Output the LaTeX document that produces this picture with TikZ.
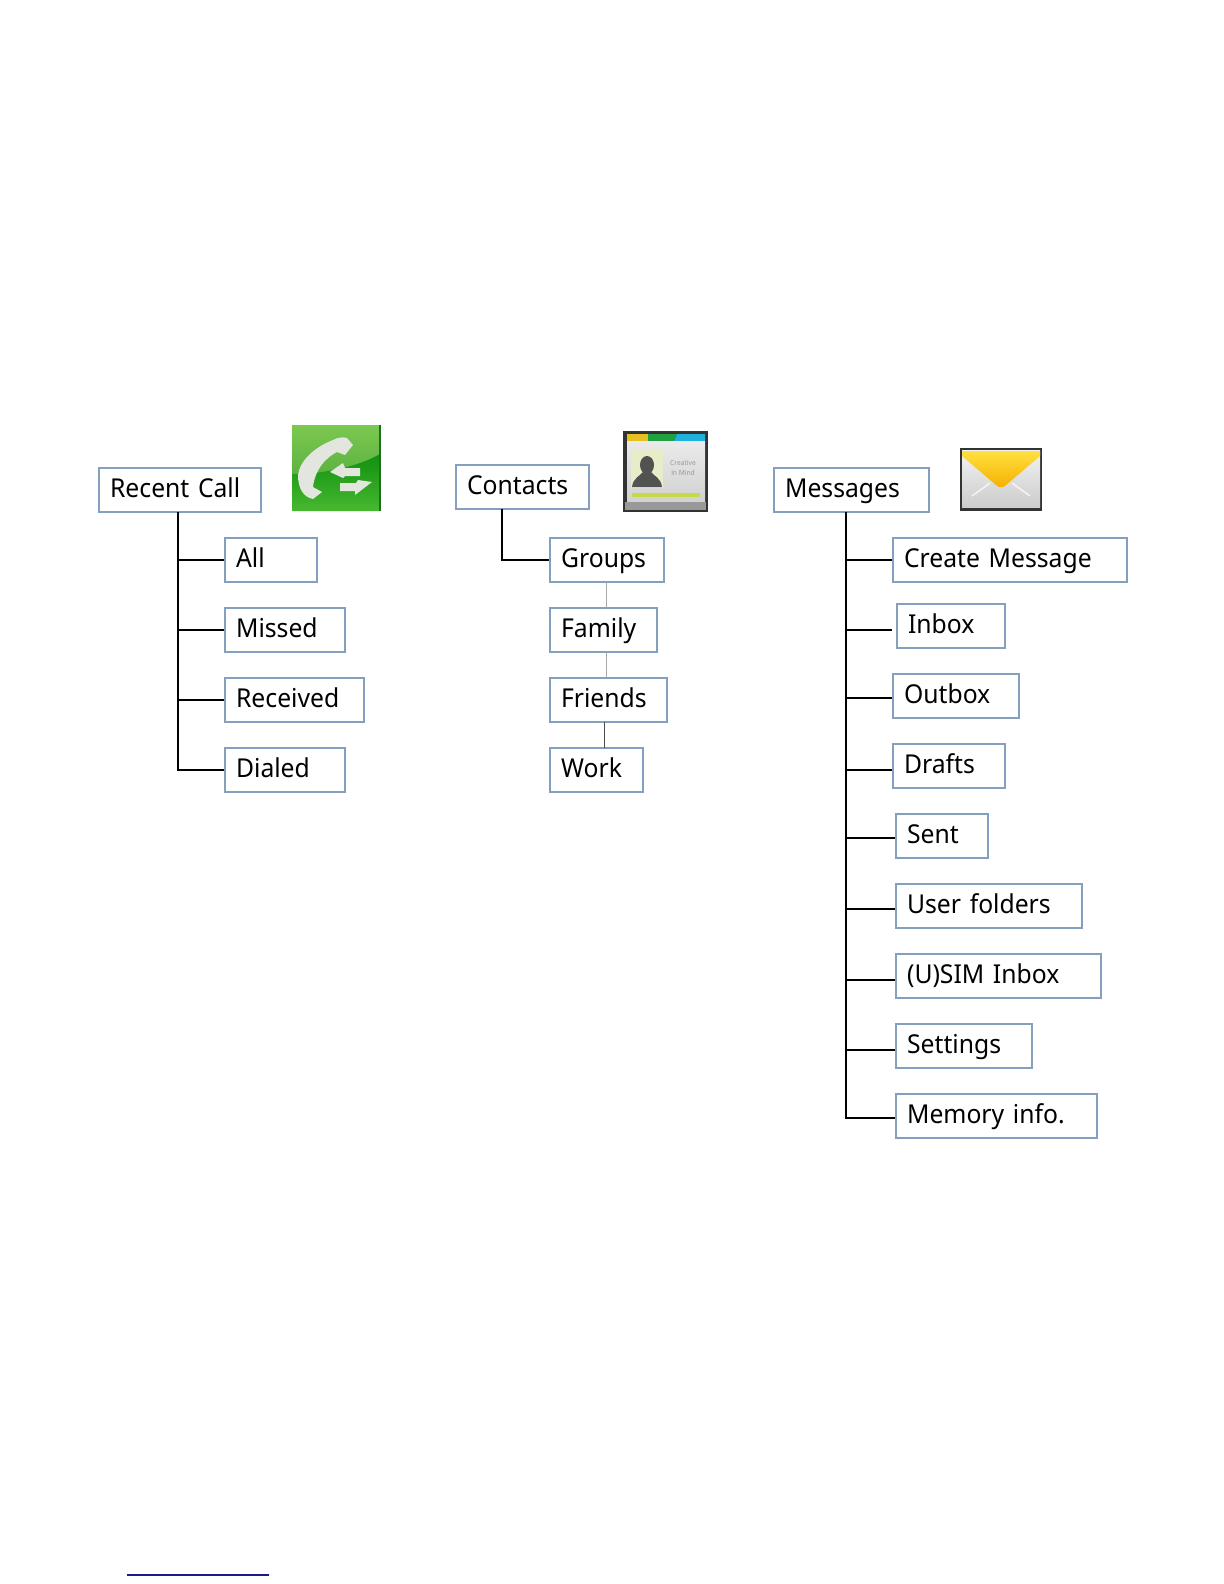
\documentclass[tikz,border=0pt]{standalone}
\usepackage{fontspec}
\setmainfont[FakeStretch=0.95]{Noto Sans}
\definecolor{boxblue}{HTML}{84A0BE}
\definecolor{hairgrey}{HTML}{A8A8A8}
\definecolor{footnavy}{HTML}{1A1A8C}
\definecolor{iconlime}{HTML}{7CC850}
\definecolor{icongreen}{HTML}{58B040}
\definecolor{icondeep}{HTML}{109010}
\definecolor{iconedge}{HTML}{1F6F1F}
\definecolor{iconfoot}{HTML}{48B830}
\definecolor{handsetgrey}{HTML}{E2E6DE}
\definecolor{framedark}{HTML}{333333}
\definecolor{tabyellow}{HTML}{E5C020}
\definecolor{tabgreen}{HTML}{20A040}
\definecolor{tabblue}{HTML}{20B0E0}
\definecolor{photopale}{HTML}{E8ECC8}
\definecolor{barlime}{HTML}{C8D848}
\definecolor{flapyellow}{HTML}{FFE040}
\definecolor{flaporange}{HTML}{F5B000}
\tikzset{
  menubox/.style={draw=boxblue,line width=1.1bp,anchor=west,inner ysep=0pt,inner xsep=5.5bp,
    minimum height=22bp,minimum width=#1*0.5bp,text width=#1*0.5bp-11bp,align=left,
    font=\fontsize{13bp}{15bp}\selectfont,text height=10bp,text depth=3bp},
  treeline/.style={black,line width=1.3bp},
  hairline/.style={hairgrey,line width=0.5bp}
}
\begin{document}
\begin{tikzpicture}[x=0.5bp,y=-0.5bp]
  \useasboundingbox (0,0) rectangle (1224,1584);
  \fill[white] (0,0) rectangle (1224,1584);

  \node[menubox=162] (recent) at (98,490) {Recent Call};
  \node[menubox=92] (all) at (224,560) {All};
  \node[menubox=120] (missed) at (224,630) {Missed};
  \node[menubox=139] (received) at (224,700) {Received};
  \node[menubox=120] (dialed) at (224,770) {Dialed};

  \node[menubox=133] (contacts) at (455,487) {Contacts};
  \node[menubox=114] (groups) at (549,560) {Groups};
  \node[menubox=107] (family) at (549,630) {Family};
  \node[menubox=117] (friends) at (549,700) {Friends};
  \node[menubox=93] (work) at (549,770) {Work};

  \node[menubox=155] (messages) at (773,490) {Messages};
  \node[menubox=234] (create) at (892,560) {Create Message};
  \node[menubox=108] (inbox) at (896,626) {Inbox};
  \node[menubox=126] (outbox) at (892,696) {Outbox};
  \node[menubox=112] (drafts) at (892,766) {Drafts};
  \node[menubox=92] (sent) at (895,836) {Sent};
  \node[menubox=186] (folders) at (895,906) {User folders};
  \node[menubox=205] (usim) at (895,976) {(U)SIM Inbox};
  \node[menubox=136] (settings) at (895,1046) {Settings};
  \node[menubox=201] (memory) at (895,1116) {Memory info.};

  \coordinate (recentstem) at (178,512);
  \coordinate (contactstem) at (502,509);
  \coordinate (messagestem) at (846,512);
  \coordinate (inboxend) at (892,630);

  \foreach \child in {all,missed,received,dialed}
    \draw[treeline] (recentstem) |- (\child.west);
  \draw[treeline] (contactstem) |- (groups.west);
  \foreach \child/\drop in {create/0,outbox/1,drafts/2,sent/1,folders/1.5,usim/2,settings/2,memory/1}
    \draw[treeline] (messagestem) |- ([yshift=-\drop bp]\child.west);
  \draw[treeline] (messagestem) |- (inboxend);

  \draw[hairline] (606,582) -- (606,608);
  \draw[hairline] (606,652) -- (606,678);
  \draw[hairline,black!70] (604,722) -- (604,748);

  \shade[top color=iconlime,bottom color=icongreen] (292,425) rectangle (380,480);
  \shade[top color=icondeep,bottom color=iconfoot] (292,474) .. controls (325,474) and (360,466) .. (380,454) -- (380,511) -- (292,511) -- cycle;
  \draw[iconedge,line width=0.8bp] (380,425) -- (380,511);
  \fill[handsetgrey] (333,440) .. controls (338,437) and (344,437) .. (347,438)
    -- (353,445) -- (345,455) -- (337,452) .. controls (325,458) and (315,470) .. (313,487)
    -- (322,492) -- (313,499) .. controls (303,497) and (298,488) .. (298,475)
    .. controls (300,460) and (315,447) .. (333,440) -- cycle;
  \fill[handsetgrey] (330,472) -- (343,463) -- (345,468) -- (360,468) -- (360,476) -- (345,476) -- (343,478) -- cycle;
  \fill[handsetgrey] (372,482) -- (358,480) -- (356,483) -- (340,483) -- (340,491) -- (355,491) -- (355,495) -- cycle;

  \fill[framedark] (623,431) rectangle (708,512);
  \fill[tabyellow] (627,434) rectangle (648,441);
  \fill[tabgreen] (648,434) -- (677,434) -- (674,441) -- (648,441) -- cycle;
  \fill[tabblue] (677,434) -- (705,434) -- (705,441) -- (674,441) -- cycle;
  \shade[top color=white!92!black,bottom color=black!18] (627,441) rectangle (705,502);
  \fill[photopale] (631,449) rectangle (663,488);
  \fill[framedark!85] (647,465) ellipse[x radius=7,y radius=9];
  \fill[framedark!85] (632,487) .. controls (633,478) and (640,476) .. (643,472) -- (651,472)
    .. controls (654,476) and (661,478) .. (662,487) -- cycle;
  \node[black!40,font=\fontsize{3.5bp}{4bp}\selectfont,inner sep=0pt] (creative) at (683,463) {Creative};
  \node[black!40,font=\fontsize{3.5bp}{4bp}\selectfont,inner sep=0pt] (mind) at (683,473) {in Mind};
  \fill[barlime] (632,493) rectangle (700,497);
  \fill[black!40] (625,502) rectangle (706,510);

  \fill[framedark] (960,448) rectangle (1042,511);
  \shade[top color=white!95!black,bottom color=black!20] (962,450) rectangle (1040,507);
  \draw[white,line width=0.8bp,opacity=0.7] (972,496) -- (990,483);
  \draw[white,line width=0.8bp,opacity=0.7] (1030,496) -- (1012,483);
  \shade[top color=flapyellow,bottom color=flaporange] (962,451) -- (1040,451) -- (1040,456) -- (1006,485)
    .. controls (1003,488) and (999,488) .. (996,485) -- (962,456) -- cycle;

  \coordinate (footleft) at (127,1575);
  \coordinate (footright) at (269,1575);
  \draw[footnavy,line width=0.6bp] (footleft) -- (footright);
\end{tikzpicture}
\end{document}
